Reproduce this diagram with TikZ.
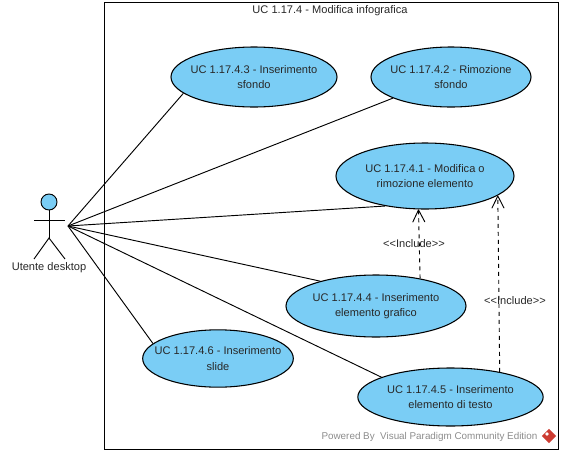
\documentclass[tikz,border=0pt]{standalone}
\usepackage{fontspec}
\setmainfont{Liberation Sans}
\usetikzlibrary{shapes.geometric,arrows.meta,positioning}
\definecolor{ucfill}{RGB}{122,205,245}
\definecolor{uctext}{RGB}{40,40,40}
\definecolor{vplogo}{RGB}{205,60,50}
\tikzset{
  usecase/.style = { draw, ellipse, line width=0.8pt, fill=ucfill, inner xsep=-20pt, inner ysep=-6pt, align=center,
    text=uctext, font=\fontsize{8.3}{11.5}\selectfont },
  lbl/.style     = { text=uctext, font=\fontsize{8.3}{10}\selectfont, inner sep=0pt },
  assoc/.style   = { line width=0.7pt },
  incl/.style    = { line width=0.7pt, dashed, -{Straight Barb[length=9pt,width=9pt,round]} }
}
\begin{document}
\begin{tikzpicture}[x=0.75pt,y=-0.75pt]
      \useasboundingbox (0,0) rectangle (562,454);
      % system frame
      \node[draw, line width=0.7pt, minimum width=340.5pt, minimum height=335.25pt, inner sep=0pt] (frame) at (331,225.5) {};
      \node[lbl] (title) at (330,11) {UC 1.17.4 - Modifica infografica};
      % use cases
      \node[usecase, minimum width=124.5pt, minimum height=45pt] (uc3) at (254,77) {UC 1.17.4.3 - Inserimento\\sfondo};
      \node[usecase, minimum width=120pt, minimum height=45pt] (uc2) at (451,77) {UC 1.17.4.2 - Rimozione\\sfondo};
      \node[usecase, minimum width=133.5pt, minimum height=49.5pt] (uc1) at (425,176) {UC 1.17.4.1 - Modifica o\\rimozione elemento};
      \node[usecase, minimum width=135pt, minimum height=46.5pt] (uc4) at (376,306) {UC 1.17.4.4 - Inserimento\\elemento grafico};
      \node[usecase, minimum width=113pt, minimum height=43pt] (uc6) at (218,358.5) {UC 1.17.4.6 - Inserimento\\slide};
      \node[usecase, minimum width=139pt, minimum height=43.5pt] (uc5) at (450.5,397) {UC 1.17.4.5 - Inserimento\\elemento di testo};
      % actor
      \node[draw, line width=0.7pt, circle, fill=ucfill, minimum size=12pt, inner sep=0pt] (head) at (49,202) {};
      \coordinate (hip) at (49,238);
      \coordinate (armL) at (34,220);
      \coordinate (armR) at (65,220);
      \coordinate (legL) at (34,259);
      \coordinate (legR) at (65,259);
      \coordinate (hub) at (68,226);
      \draw[assoc] (head) -- (hip);
      \draw[assoc] (armL) -- (armR);
      \draw[assoc] (legL) -- (hip) -- (legR);
      \node[lbl] (actor) at (49,268) {Utente desktop};
      % associations
      \draw[assoc] (hub) -- (uc3.193.5);
      \draw[assoc] (hub) -- (uc2.200.4);
      \draw[assoc] (hub) -- (uc1.217);
      \draw[assoc] (hub) -- (uc4.156.7);
      \draw[assoc] (hub) -- (uc6.167.2);
      \draw[assoc] (hub) -- (uc5.164.2);
      % includes
      \draw[incl] (uc4.32.3) -- (uc1.259.7);
      \draw[incl] (uc5.27.4) -- (uc1.345.5);
      \node[lbl] (inc1) at (414,244) {<{}<Include>{}>};
      \node[lbl] (inc2) at (515,301) {<{}<Include>{}>};
      % watermark
      \node[lbl, text=black!45, font=\fontsize{7.4}{9}\selectfont] (powered) at (429.5,437) {Powered By\ \ Visual Paradigm Community Edition};
      \node[diamond, fill=vplogo, minimum size=11pt, inner sep=0pt] (logo) at (549,436) {};
      \node[diamond, fill=white, minimum size=3pt, inner sep=0pt] (logoin) at (547,434) {};
\end{tikzpicture}
\end{document}
